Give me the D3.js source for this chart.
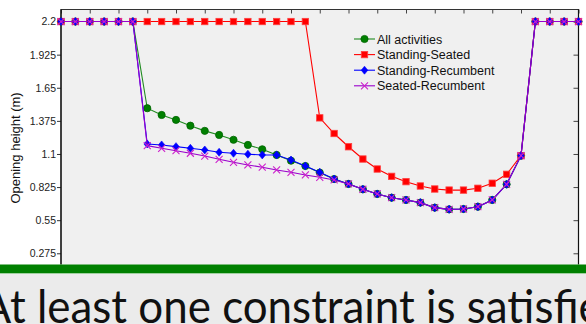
<!DOCTYPE html>
<html>
<head>
<meta charset="utf-8">
<script src="https://cdn.jsdelivr.net/npm/d3@7"></script>
<style>
  html, body { margin: 0; padding: 0; background: #fff; }
  svg { display: block; }
</style>
</head>
<body>
<script>
const width = 586;
const height = 324;

// x positions (step index) and the four series
const steps = d3.range(0, 37);
const allActivities = [2.2, 2.2, 2.2, 2.2, 2.2, 2.2, 1.48, 1.424, 1.383, 1.335, 1.292, 1.258, 1.218, 1.175, 1.139, 1.092, 1.044, 1.0, 0.945,
  0.892, 0.851, 0.807, 0.768, 0.737, 0.718, 0.696, 0.654, 0.64, 0.643, 0.662, 0.718, 0.848, 1.086, 2.2, 2.2, 2.2, 2.2];
const standingSeated = [2.2, 2.2, 2.2, 2.2, 2.2, 2.2, 2.2, 2.2, 2.2, 2.2, 2.2, 2.2, 2.2, 2.2, 2.2, 2.2, 2.2, 2.2,
  1.40, 1.27, 1.16, 1.058, 0.975, 0.914, 0.87, 0.834, 0.809, 0.80, 0.80, 0.815, 0.857, 0.931, 1.086, 2.2, 2.2, 2.2, 2.2];
const standingRecumbent = [2.2, 2.2, 2.2, 2.2, 2.2, 2.2, 1.183, 1.175, 1.161, 1.147, 1.133, 1.114, 1.106, 1.098, 1.092, 1.092, 1.05, 1.0, 0.948,
  0.892, 0.851, 0.807, 0.768, 0.737, 0.718, 0.696, 0.654, 0.64, 0.643, 0.662, 0.718, 0.848, 1.086, 2.2, 2.2, 2.2, 2.2];
const seatedRecumbent = [2.2, 2.2, 2.2, 2.2, 2.2, 2.2, 1.169, 1.147, 1.127, 1.106, 1.083, 1.056, 1.031, 1.009, 0.99, 0.967, 0.948, 0.926, 0.906,
  0.884, 0.851, 0.807, 0.768, 0.737, 0.718, 0.696, 0.654, 0.64, 0.643, 0.662, 0.718, 0.848, 1.086, 2.2, 2.2, 2.2, 2.2];

const seriesNames = ["All activities", "Standing-Seated", "Standing-Recumbent", "Seated-Recumbent"];
const yTicks = [0.275, 0.55, 0.825, 1.1, 1.375, 1.65, 1.925, 2.2];
const xTicks = d3.range(0, 37, 2);
const yLabel = "Opening height (m)";
const caption = "At least one constraint is satisfied";

const series = [
  { name: seriesNames[0], values: allActivities, line: "#1f8a1f", fill: "#008000", stroke: "#006400", marker: "circle" },
  { name: seriesNames[1], values: standingSeated, line: "#ff0000", fill: "#ff0000", stroke: "#ff4040", marker: "square" },
  { name: seriesNames[2], values: standingRecumbent, line: "#0000ff", fill: "#0000ff", stroke: "#0000ff", marker: "diamond" },
  { name: seriesNames[3], values: seatedRecumbent, line: "#9a00cc", fill: "none", stroke: "#cc22cc", marker: "cross" }
];

const plot = { left: 61, right: 578.5, top: 9.5, bottom: 286.4 };
const bandTop = 264.5;

const svg = d3.select("body").append("svg")
  .attr("width", width)
  .attr("height", height)
  .style("font-family", "'Liberation Sans', Arial, sans-serif");

const x = d3.scaleLinear().domain([0, 36]).range([plot.left, plot.right]);
const y = d3.scaleLinear().domain([0, 2.3]).range([plot.bottom, plot.top]);

svg.append("defs").append("clipPath").attr("id", "clip")
  .append("rect")
  .attr("x", 0).attr("y", 0)
  .attr("width", width).attr("height", bandTop);

const chart = svg.append("g").attr("clip-path", "url(#clip)");

// axes background
chart.append("rect")
  .attr("x", plot.left).attr("y", plot.top)
  .attr("width", plot.right - plot.left)
  .attr("height", plot.bottom - plot.top)
  .attr("fill", "#f0f0f0");

// left axis, ticks outside
const leftAxis = chart.append("g")
  .attr("transform", `translate(${plot.left},0)`)
  .call(d3.axisLeft(y).tickValues(yTicks).tickSize(4).tickPadding(1).tickFormat(d => String(d)));
leftAxis.select(".domain").remove();
leftAxis.selectAll(".tick line").attr("stroke", "#333");
leftAxis.selectAll(".tick text").attr("font-size", 10.5).attr("fill", "#222");

// right ticks inside
chart.append("g")
  .attr("transform", `translate(${plot.right},0)`)
  .call(d3.axisLeft(y).tickValues(yTicks).tickSize(5).tickFormat(""))
  .call(g => g.select(".domain").remove())
  .selectAll(".tick line").attr("stroke", "#444");

// top ticks inside
chart.append("g")
  .attr("transform", `translate(0,${plot.top})`)
  .call(d3.axisBottom(x).tickValues(xTicks).tickSize(4).tickFormat(""))
  .call(g => g.select(".domain").remove())
  .selectAll(".tick line").attr("stroke", "#444");

// frame
chart.append("line")
  .attr("x1", plot.left - 0.5).attr("x2", plot.right + 0.5)
  .attr("y1", plot.top).attr("y2", plot.top)
  .attr("stroke", "#333").attr("stroke-width", 1);
chart.append("line")
  .attr("x1", plot.left).attr("x2", plot.left)
  .attr("y1", plot.top).attr("y2", plot.bottom)
  .attr("stroke", "#111").attr("stroke-width", 1.6);
chart.append("line")
  .attr("x1", plot.right).attr("x2", plot.right)
  .attr("y1", plot.top).attr("y2", plot.bottom)
  .attr("stroke", "#111").attr("stroke-width", 1.2);

// y label
svg.append("text")
  .attr("transform", `translate(20,${(plot.top + plot.bottom) / 2}) rotate(-90)`)
  .attr("text-anchor", "middle")
  .attr("font-size", 13)
  .attr("fill", "#111")
  .text(yLabel);

const line = d3.line().x((d, i) => x(steps[i])).y(d => y(d));

function drawMarker(g, type, cx, cy, s) {
  if (type === "circle") {
    g.append("circle").attr("cx", cx).attr("cy", cy).attr("r", 3.6)
      .attr("fill", s.fill).attr("stroke", s.stroke).attr("stroke-width", 0.8);
  } else if (type === "square") {
    g.append("rect").attr("x", cx - 3.2).attr("y", cy - 3.2).attr("width", 6.4).attr("height", 6.4)
      .attr("fill", s.fill).attr("stroke", s.stroke).attr("stroke-width", 0.8);
  } else if (type === "diamond") {
    g.append("path").attr("d", `M${cx},${cy - 4}L${cx + 3.3},${cy}L${cx},${cy + 4}L${cx - 3.3},${cy}Z`)
      .attr("fill", s.fill).attr("stroke", s.stroke).attr("stroke-width", 0.6);
  } else {
    g.append("path").attr("d", `M${cx - 3.5},${cy - 3.5}L${cx + 3.5},${cy + 3.5}M${cx - 3.5},${cy + 3.5}L${cx + 3.5},${cy - 3.5}`)
      .attr("fill", "none").attr("stroke", s.stroke).attr("stroke-width", 1.1);
  }
}

series.forEach(s => {
  const g = chart.append("g");
  g.append("path")
    .datum(s.values)
    .attr("d", line)
    .attr("fill", "none")
    .attr("stroke", s.line)
    .attr("stroke-width", 1.1);
  s.values.forEach((v, i) => drawMarker(g, s.marker, x(steps[i]), y(v), s));
});

// legend
const legend = svg.append("g").attr("transform", "translate(354,39)");
series.forEach((s, i) => {
  const row = legend.append("g").attr("transform", `translate(0,${i * 15.6})`);
  row.append("line").attr("x1", 0).attr("x2", 21).attr("y1", 0).attr("y2", 0)
    .attr("stroke", s.line).attr("stroke-width", 1.1);
  drawMarker(row, s.marker, 10.5, 0, s);
  row.append("text")
    .attr("x", 23).attr("y", 0).attr("dy", "0.36em")
    .attr("font-size", 12.5).attr("fill", "#111")
    .text(s.name);
});

// green band and caption area
svg.append("rect")
  .attr("x", 0).attr("y", bandTop).attr("width", width).attr("height", 8.5)
  .attr("fill", "#008000");
svg.append("rect")
  .attr("x", 0).attr("y", bandTop + 8.5).attr("width", width).attr("height", height - bandTop - 8.5)
  .attr("fill", "#ebebeb");
svg.append("rect")
  .attr("x", 0).attr("y", bandTop + 8.5).attr("width", width).attr("height", 1)
  .attr("fill", "#9fd09f");

const cap = svg.append("text")
  .attr("x", 0).attr("y", 323)
  .attr("font-family", "Lato, 'Open Sans', sans-serif")
  .attr("font-size", 47)
  .attr("fill", "#111")
  .text(caption);
// fit the caption horizontally to where the reference places its letters
const p3 = cap.node().getStartPositionOfChar(3).x;
const p27 = cap.node().getStartPositionOfChar(27).x;
const sx = (467 - 37) / (p27 - p3);
cap.attr("transform", `translate(${37 - p3 * sx},0) scale(${sx},1)`);
</script>
</body>
</html>
